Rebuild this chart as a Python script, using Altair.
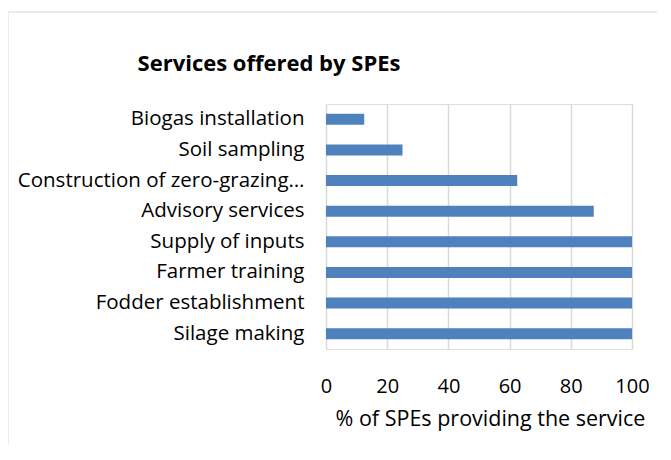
import altair as alt
import pandas as pd

services = [
    "Biogas installation",
    "Soil sampling\u00a0",
    "Construction of zero-grazing units",
    "Advisory services",
    "Supply of inputs",
    "Farmer training",
    "Fodder establishment",
    "Silage making",
]
percent = [12.5, 25, 62.5, 87.5, 100, 100, 100, 100]
ticks = [0, 20, 40, 60, 80, 100]

df = pd.DataFrame({"service": services, "percent": percent})

FONT = "Open Sans"

bars = alt.Chart(df).mark_bar(color="#4F81BD", size=11).encode(
    x=alt.X(
        "percent:Q",
        scale=alt.Scale(domain=[0, 100], nice=False),
        axis=alt.Axis(
            values=ticks,
            title="% of SPEs providing the service",
            grid=True,
            gridColor="#d9d9d9",
            gridWidth=1.5,
            domain=False,
            ticks=False,
            labelFlush=False,
            labelPadding=27,
            labelFontSize=20,
            labelColor="#000000",
            labelFont=FONT,
            titleFont=FONT,
            titleFontSize=21.5,
            titleFontWeight="normal",
            titleColor="#000000",
            titleAlign="center",
            titleBaseline="alphabetic",
            titleX=164,
            titleY=76,
        ),
    ),
    y=alt.Y(
        "service:N",
        sort=services,
        scale=alt.Scale(paddingInner=0, paddingOuter=0),
        axis=alt.Axis(
            title=None,
            domain=False,
            ticks=False,
            labelPadding=22,
            labelFont=FONT,
            labelFontSize=20.5,
            labelColor="#000000",
            labelLimit=400,
            labelExpr="length(datum.label) > 29 ? substring(datum.label, 0, 28) + '…' : datum.label",
        ),
    ),
)

border = alt.Chart(pd.DataFrame({"a": [0]})).mark_rect(
    fill="transparent", stroke="#d9d9d9", strokeWidth=1
).encode(
    x=alt.value(-318), x2=alt.value(420), y=alt.value(-92), y2=alt.value(420)
)

chart = alt.layer(border, bars).properties(
    width=306,
    height=245,
    title=alt.TitleParams(
        "Services offered by SPEs",
        font=FONT,
        fontSize=22,
        fontWeight="bold",
        color="#000000",
        anchor="middle",
        frame="group",
        baseline="alphabetic",
        offset=-81,
        dx=-210,
    ),
    autosize=alt.AutoSizeParams(type="none"),
    padding={"left": 318, "top": 96, "right": 25, "bottom": 96},
).configure_view(stroke=None).configure(background="white")

chart.save("out.html", embed_options={"renderer": "svg", "actions": False})
